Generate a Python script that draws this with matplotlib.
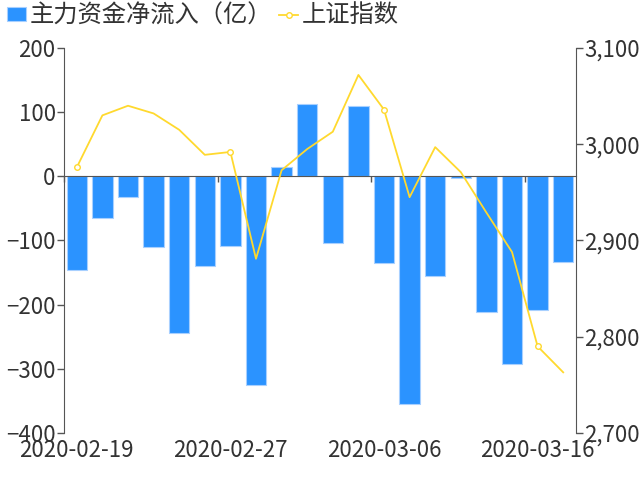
import matplotlib
matplotlib.use("Agg")
import matplotlib.pyplot as plt
import matplotlib.transforms as mtransforms
from matplotlib.ticker import FuncFormatter, FixedLocator

plt.rcParams['font.family'] = ['Noto Sans CJK SC', 'DejaVu Sans']

dates = ["2020-02-19", "2020-02-20", "2020-02-21", "2020-02-24", "2020-02-25",
         "2020-02-26", "2020-02-27", "2020-02-28", "2020-03-02", "2020-03-03",
         "2020-03-04", "2020-03-05", "2020-03-06", "2020-03-09", "2020-03-10",
         "2020-03-11", "2020-03-12", "2020-03-13", "2020-03-16", "2020-03-17"]
net_inflow = [-146, -65, -32, -110, -244, -140, -108, -325, 14, 112,
              -104, 109, -135, -355, -155, -2, -211, -293, -208, -133]
sh_index = [2976, 3030, 3040, 3032, 3015, 2989, 2992, 2881, 2973, 2995,
            3013, 3072, 3036, 2945, 2997, 2971, 2929, 2888, 2790, 2763]
bar_label = "主力资金净流入（亿）"
line_label = "上证指数"

BLUE = "#2B93FF"
GOLD = "#FFD92E"
TXT = "#333333"
AX = "#555555"
FS = 16

fig = plt.figure(figsize=(6.4, 4.8), dpi=100)
ax = fig.add_axes([0.1, 0.098, 0.8, 0.802])
x = list(range(len(dates)))

bars = ax.bar(x, net_inflow, width=0.8, color=BLUE, edgecolor="#a8d0ff",
              linewidth=0.8, label=bar_label, zorder=2)
ax.set_xlim(-0.5, len(dates) - 0.5)
ax.set_ylim(-400, 200)
ax.set_yticks([-400, -300, -200, -100, 0, 100, 200])

for s in ["top", "right"]:
    ax.spines[s].set_visible(False)
ax.spines["left"].set_color(AX)
ax.spines["bottom"].set_position(("data", 0))
ax.spines["bottom"].set_color(AX)
ax.spines["bottom"].set_zorder(3)
ax.tick_params(axis="y", colors=AX, labelcolor=TXT, labelsize=FS, length=5, width=1, pad=1)
ax.xaxis.set_major_locator(FixedLocator([-0.5, 5.5, 11.5, 17.5]))
ax.tick_params(axis="x", colors=AX, length=4, width=1, labelbottom=False)

trans = mtransforms.blended_transform_factory(ax.transData, ax.transAxes)
for i in [0, 6, 12, 18]:
    ax.text(i, -0.015, dates[i], transform=trans, ha="center", va="top",
            fontsize=FS, color=TXT)

ax2 = ax.twinx()
ax2.set_position([0.1, 0.098, 0.8, 0.802])
line, = ax2.plot(x, sh_index, color=GOLD, linewidth=1.3, zorder=4,
                 marker="o", markevery=[0, 6, 12, 18], markersize=4,
                 markerfacecolor="white", markeredgecolor=GOLD, markeredgewidth=1,
                 label=line_label)
ax2.set_ylim(2700, 3100)
ax2.set_yticks([2700, 2800, 2900, 3000, 3100])
ax2.yaxis.set_major_formatter(FuncFormatter(lambda v, p: f"{int(v):,}"))
for s in ["top", "left", "bottom"]:
    ax2.spines[s].set_visible(False)
ax2.spines["right"].set_color(AX)
ax2.tick_params(axis="y", colors=AX, labelcolor=TXT, labelsize=FS, length=5, width=1, pad=1)

leg = fig.legend([bars, line], [bar_label, line_label], loc="upper left",
                 bbox_to_anchor=(0.003, 1.005), ncol=2, frameon=False,
                 fontsize=17.5, handlelength=0.8, handleheight=0.5,
                 handletextpad=0.12, columnspacing=0.3, borderaxespad=0,
                 borderpad=0.2, labelcolor=TXT)

fig.savefig("out.png", dpi=100)
